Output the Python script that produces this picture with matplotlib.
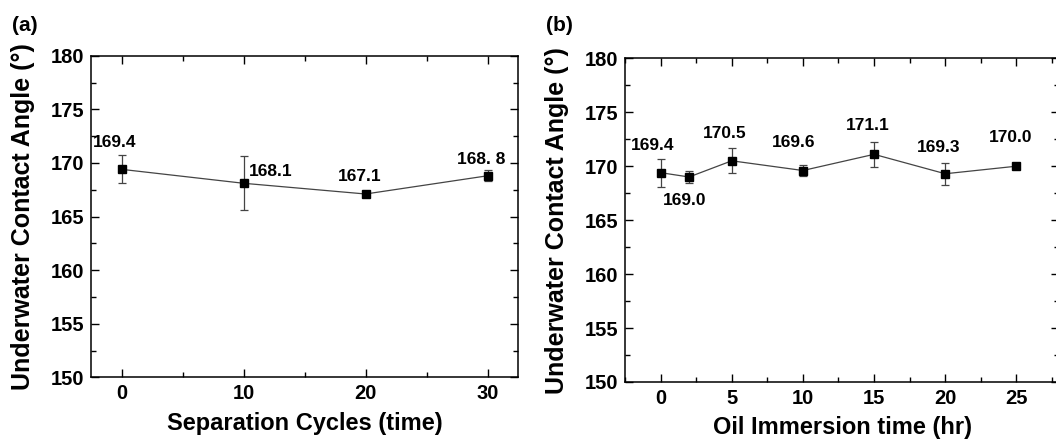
import matplotlib
matplotlib.use('Agg')
import matplotlib.pyplot as plt
from matplotlib.ticker import MultipleLocator

plt.rcParams['font.family'] = ['Liberation Sans', 'DejaVu Sans']
plt.rcParams['font.weight'] = 'bold'

# panel (a): separation cycles
cycles = [0, 10, 20, 30]
angleA = [169.4, 168.1, 167.1, 168.8]
errA = [1.3, 2.5, 0.1, 0.5]
labelsA = ['169.4', '168.1', '167.1', '168. 8']

# panel (b): oil immersion time
hours = [0, 2, 5, 10, 15, 20, 25]
angleB = [169.4, 169.0, 170.5, 169.6, 171.1, 169.3, 170.0]
errB = [1.3, 0.6, 1.15, 0.55, 1.15, 1.0, 0.1]
labelsB = ['169.4', '169.0', '170.5', '169.6', '171.1', '169.3', '170.0']

# label offsets in points (dx, dy)
offA = [(-4.7, 19.2), (19.4, 8.4), (-4.4, 12.5), (-4.8, 11.9)]
offB = [(-5.4, 19.4), (-3, -17), (-5, 19.3), (-6.8, 20.3),
        (-4.2, 21.1), (-4.4, 19.1), (-3.8, 20.8)]

fig = plt.figure(figsize=(10.56, 4.41), dpi=100)
axA = fig.add_axes([0.0862, 0.1444, 0.4044, 0.7293])
axB = fig.add_axes([0.5919, 0.1338, 0.4110, 0.7340])


def style(ax, xlab, xmaj, xmin):
    ax.set_ylim(150, 180)
    ax.yaxis.set_major_locator(MultipleLocator(5))
    ax.yaxis.set_minor_locator(MultipleLocator(2.5))
    ax.xaxis.set_major_locator(MultipleLocator(xmaj))
    ax.xaxis.set_minor_locator(MultipleLocator(xmin))
    ax.tick_params(which='both', direction='in', top=True, right=True,
                   labelsize=14.5, width=1, pad=5)
    ax.tick_params(which='major', length=6)
    ax.tick_params(which='minor', length=3.5)
    for lab in ax.get_xticklabels() + ax.get_yticklabels():
        lab.set_fontweight('bold')
    for sp in ax.spines.values():
        sp.set_linewidth(1.1)
    ax.set_xlabel(xlab, fontsize=17, fontweight='bold', labelpad=6)
    ax.set_ylabel('Underwater Contact Angle (°)', fontsize=18,
                  fontweight='bold')


def draw(ax, x, y, e, labels, offs):
    ax.errorbar(x, y, yerr=e, fmt='-', color='#444444', lw=0.9,
                elinewidth=0.9, capsize=2.7, capthick=0.9, zorder=2)
    ax.plot(x, y, 's', color='black', ms=6, zorder=3)
    for xi, yi, t, (dx, dy) in zip(x, y, labels, offs):
        ax.annotate(t, (xi, yi), xytext=(dx, dy), textcoords='offset points',
                    ha='center', va='center', fontsize=12.5, fontweight='bold')


draw(axA, cycles, angleA, errA, labelsA, offA)
style(axA, 'Separation Cycles (time)', 10, 5)
axA.set_xlim(-2.5, 32.5)
axA.yaxis.set_label_coords(-0.131, 0.5)

draw(axB, hours, angleB, errB, labelsB, offB)
style(axB, 'Oil Immersion time (hr)', 5, 2.5)
axB.set_xlim(-2.5, 28)
axB.yaxis.set_label_coords(-0.129, 0.5)

fig.text(0.011, 0.943, '(a)', fontsize=15, fontweight='bold', va='center')
fig.text(0.517, 0.943, '(b)', fontsize=15, fontweight='bold', va='center')

fig.savefig('out.png', dpi=100)
